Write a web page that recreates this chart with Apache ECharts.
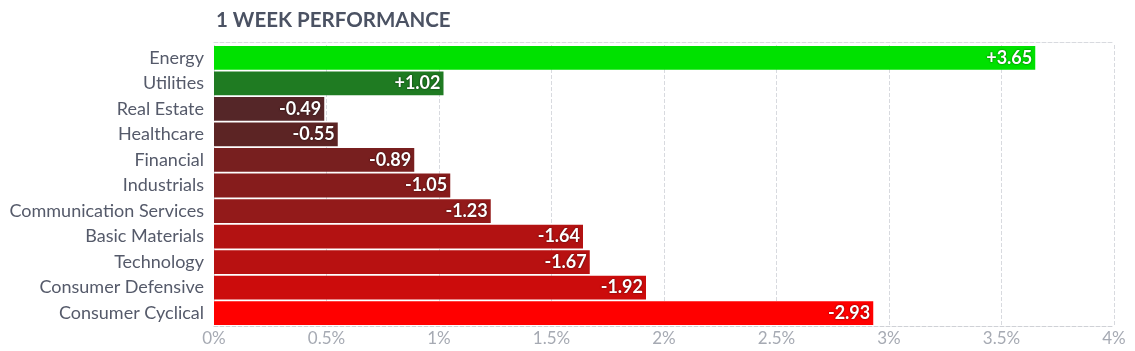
<!DOCTYPE html>
<html>
<head>
<meta charset="utf-8">
<script src="https://cdn.jsdelivr.net/npm/echarts@6/dist/echarts.min.js"></script>
<style>
  html, body { margin: 0; padding: 0; background: #fff; }
  #chart { width: 1135px; height: 351px; }
</style>
</head>
<body>
<div id="chart"></div>
<script>
// sectors, top to bottom
var sectors = ['Energy', 'Utilities', 'Real Estate', 'Healthcare', 'Financial', 'Industrials',
  'Communication Services', 'Basic Materials', 'Technology', 'Consumer Defensive', 'Consumer Cyclical'];
// 1 week change in %
var changes = [3.65, 1.02, -0.49, -0.55, -0.89, -1.05, -1.23, -1.64, -1.67, -1.92, -2.93];
var barColors = ['#00e100', '#1f7b22', '#552628', '#5c2424', '#781f1f', '#861c1c', '#931a1a',
  '#b31212', '#b81111', '#cc0c0c', '#ff0000'];
var tickLabels = ['0%', '0.5%', '1%', '1.5%', '2%', '2.5%', '3%', '3.5%', '4%'];

var myChart = echarts.init(document.getElementById('chart'));

// bars are drawn by size, the sign only goes in the label
var barData = [];
for (var i = 0; i < changes.length; i++) {
  barData.push({
    value: Math.abs(changes[i]),
    itemStyle: { color: barColors[i] }
  });
}

var option = {
  animation: false,
  title: {
    text: '1 WEEK PERFORMANCE',
    left: 211,
    top: 5,
    textStyle: { fontFamily: 'Lato', fontSize: 20.5, fontWeight: 'bold', color: '#4b5263' }
  },
  grid: { left: 214, right: 21, top: 45, bottom: 25 },
  xAxis: [{
    type: 'value',
    min: 0,
    max: 4,
    interval: 0.5,
    axisLine: { show: true, lineStyle: { color: '#cfd1d6', type: 'dashed' } },
    axisTick: { show: false },
    splitLine: { show: true, lineStyle: { color: '#d8dadf', type: 'dashed' } },
    axisLabel: {
      color: '#a6aab3',
      fontFamily: 'Lato',
      fontSize: 17,
      margin: 4,
      formatter: function (v) { return tickLabels[Math.round(v * 2)]; }
    }
  }, {
    // just the dashed top border
    type: 'value',
    position: 'top',
    offset: 3,
    min: 0,
    max: 4,
    interval: 0.5,
    axisLine: { show: true, lineStyle: { color: '#d8dadf', type: 'dashed' } },
    axisTick: { show: false },
    axisLabel: { show: false },
    splitLine: { show: false }
  }],
  yAxis: {
    type: 'category',
    data: sectors,
    inverse: true,
    axisLine: { show: false },
    axisTick: { show: false },
    axisLabel: { color: '#555a6a', fontFamily: 'Lato', fontSize: 18, margin: 10 }
  },
  series: [{
    type: 'bar',
    data: barData,
    barCategoryGap: '7%',
    label: {
      show: true,
      position: 'insideRight',
      distance: 3,
      color: '#fff',
      fontFamily: 'Lato',
      fontWeight: 'bold',
      fontSize: 18,
      textShadowColor: 'rgba(0,0,0,0.7)',
      textShadowBlur: 2,
      formatter: function (p) {
        var v = changes[p.dataIndex];
        return (v > 0 ? '+' : '') + v.toFixed(2);
      }
    }
  }]
};

myChart.setOption(option);
</script>
</body>
</html>
